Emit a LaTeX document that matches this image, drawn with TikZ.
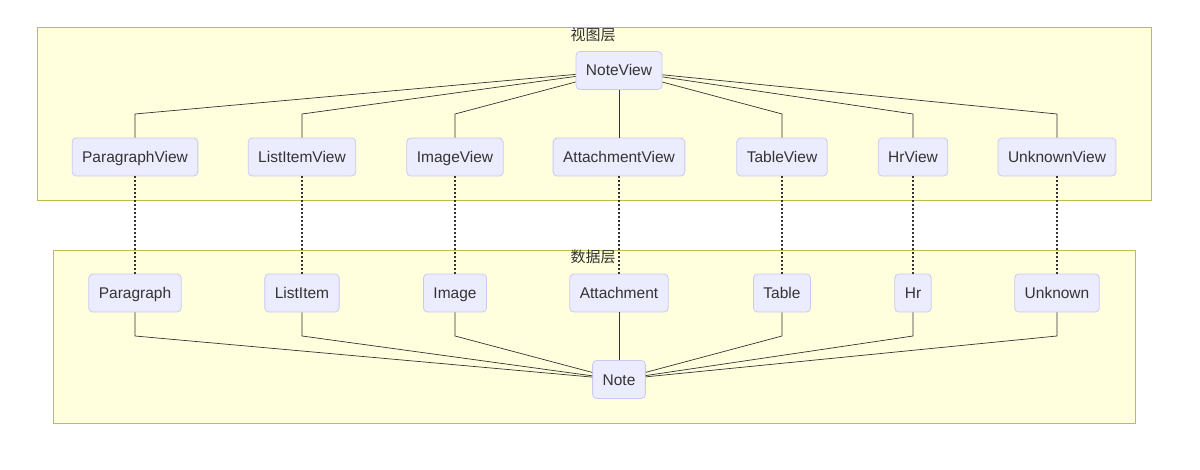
\documentclass[tikz,border=0pt]{standalone}
\usepackage{fontspec}
\setmainfont{Liberation Sans}
\newfontfamily\cjk{Noto Sans CJK SC}
\definecolor{boxfill}{HTML}{ECECFF}
\definecolor{boxline}{HTML}{C9C9F5}
\definecolor{clfill}{HTML}{FFFFDE}
\definecolor{clline}{HTML}{BDBD4A}
\definecolor{textc}{HTML}{333333}
\definecolor{edgec}{HTML}{333333}
\begin{document}
\begin{tikzpicture}[x=1pt,y=-1pt,
  box/.style={draw=boxline, fill=boxfill, rounded corners=4pt, line width=0.8pt,
    inner xsep=10pt, inner ysep=0pt, minimum height=38pt,
    text height=13pt, text depth=2pt,
    font=\fontsize{15.5}{18}\selectfont, text=textc},
  cluster/.style={draw=clline, fill=clfill, line width=0.8pt},
  cltitle/.style={font=\cjk\fontsize{15}{17}\selectfont, text=textc},
  edge/.style={draw=edgec, line width=0.7pt},
  link/.style={draw=edgec, line width=1.3pt, dash pattern=on 2pt off 2pt}]
\useasboundingbox (0,0) rectangle (1200,470);
% clusters
\path[cluster] (37,27) rectangle (1151,200);
\path[cluster] (53,250) rectangle (1135,423);
\node[cltitle] (t1) at (593,35) {视图层};
\node[cltitle] (t2) at (593,257) {数据层};
% view nodes
\node[box] (NV) at (619,70.5) {NoteView};
\node[box] (PV) at (135,157) {ParagraphView};
\node[box] (LV) at (302,157) {ListItemView};
\node[box] (IV) at (455,157) {ImageView};
\node[box] (AV) at (619,157) {AttachmentView};
\node[box] (TV) at (782,157) {TableView};
\node[box] (HV) at (913,157) {HrView};
\node[box] (UV) at (1057,157) {UnknownView};
% data nodes
\node[box] (P) at (135,293) {Paragraph};
\node[box] (L) at (302,293) {ListItem};
\node[box] (I) at (455,293) {Image};
\node[box] (A) at (619,293) {Attachment};
\node[box] (T) at (782,293) {Table};
\node[box] (H) at (913,293) {Hr};
\node[box] (U) at (1057,293) {Unknown};
\node[box] (N) at (619,379.5) {Note};
% view edges
\foreach \n in {PV,LV,IV,TV,HV,UV}{
  \draw[edge] (\n.north) -- (\n.north |- 0,114) -- (NV);
}
\draw[edge] (NV.south) -- (AV.north);
% data edges
\foreach \n in {P,L,I,T,H,U}{
  \draw[edge] (\n.south) -- (\n.south |- 0,336) -- (N);
}
\draw[edge] (A.south) -- (N.north);
% dotted links
\foreach \a/\b in {PV/P,LV/L,IV/I,AV/A,TV/T,HV/H,UV/U}{
  \draw[link] (\a.south) -- (\b.north);
}
\end{tikzpicture}
\end{document}
